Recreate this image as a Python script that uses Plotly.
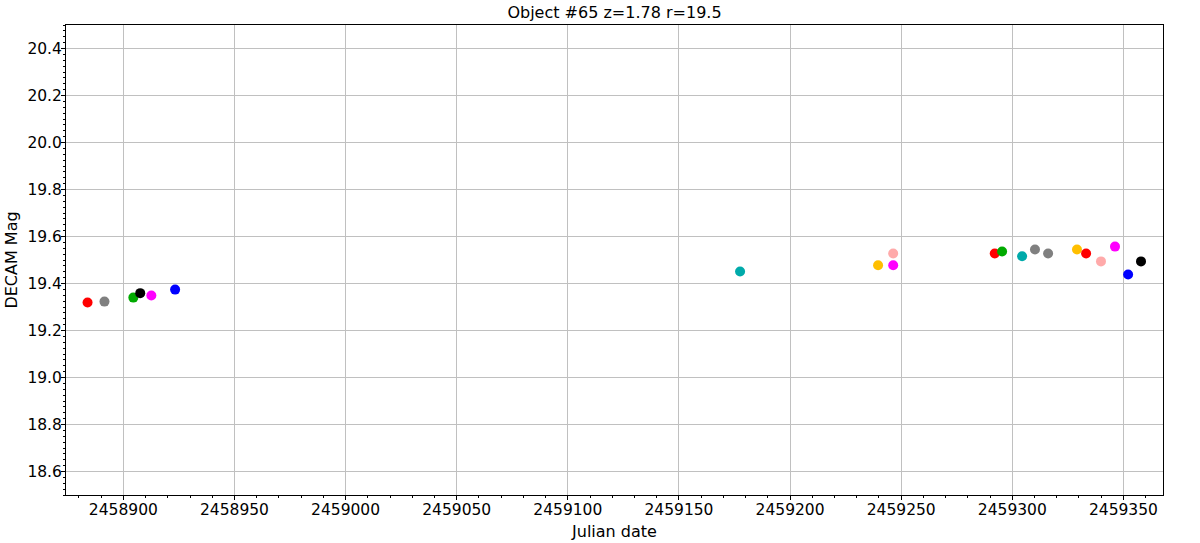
import plotly.graph_objects as go

# Data
julian_date = [
    2458883.9, 2458891.5, 2458904.5, 2458907.6, 2458912.6, 2458923.3,
    2459177.5, 2459239.6, 2459246.4, 2459246.4,
    2459292.1, 2459295.4, 2459304.4, 2459310.2, 2459316.1, 2459329.1,
    2459333.2, 2459339.9, 2459346.2, 2459352.1, 2459357.9,
]
decam_mag = [
    19.319, 19.323, 19.340, 19.359, 19.349, 19.374,
    19.451, 19.478, 19.528, 19.478,
    19.528, 19.536, 19.516, 19.545, 19.528, 19.545,
    19.528, 19.494, 19.557, 19.438, 19.494,
]

# Style: marker colour of each point
point_colors = [
    "#ff0000", "#808080", "#00aa00", "#000000", "#ff00ff", "#0000ff",
    "#00aaaa", "#ffbf00", "#ffaaaa", "#ff00ff",
    "#ff0000", "#00aa00", "#00aaaa", "#808080", "#808080", "#ffbf00",
    "#ff0000", "#ffaaaa", "#ff00ff", "#0000ff", "#000000",
]

title_text = "Object #65 z=1.78 r=19.5"
x_label = "Julian date"
y_label = "DECAM Mag"

fig = go.Figure(
    go.Scatter(
        x=julian_date,
        y=decam_mag,
        mode="markers",
        marker=dict(color=point_colors, size=10, line=dict(width=0)),
        showlegend=False,
    )
)

font_family = "DejaVu Sans"
axis_common = dict(
    automargin=False,
    showline=True,
    linecolor="black",
    linewidth=1,
    mirror=True,
    showgrid=True,
    gridcolor="#c0c0c0",
    gridwidth=1,
    zeroline=False,
    ticks="outside",
    ticklen=4,
    tickwidth=1,
    tickcolor="black",
    ticklabelstandoff=-4,
    tickfont=dict(family=font_family, size=15.5, color="black"),
)

fig.update_xaxes(
    **axis_common,
    range=[2458874.2, 2459367.8],
    tick0=2458900,
    dtick=50,
    tickformat="d",
    title=dict(text=x_label, font=dict(family=font_family, size=16, color="black"), standoff=8),
    minor=dict(dtick=10, ticks="outside", ticklen=2, tickcolor="black", showgrid=False),
)
fig.update_yaxes(
    **axis_common,
    range=[18.5, 20.5],
    tick0=18.6,
    dtick=0.2,
    tickformat=".1f",
    title=dict(text=y_label, font=dict(family=font_family, size=16, color="black"), standoff=5),
    minor=dict(dtick=0.025, tick0=18.6, ticks="outside", ticklen=2, tickcolor="black", showgrid=False),
)

fig.update_layout(
    width=1200,
    height=543,
    margin=dict(l=66, r=37, t=25, b=48, autoexpand=False),
    paper_bgcolor="white",
    plot_bgcolor="white",
    font=dict(family=font_family, size=15, color="black"),
    title=dict(
        text=title_text,
        x=0.5,
        xref="paper",
        xanchor="center",
        y=1 - 12 / 543,
        yref="container",
        yanchor="middle",
        font=dict(family=font_family, size=16, color="black"),
    ),
)

# Remove the browser's default 8px page margin so the figure sits at the window's corner
fig.write_html(
    "out.html",
    config={"displayModeBar": False},
    post_script="document.body.style.margin='0';",
)
